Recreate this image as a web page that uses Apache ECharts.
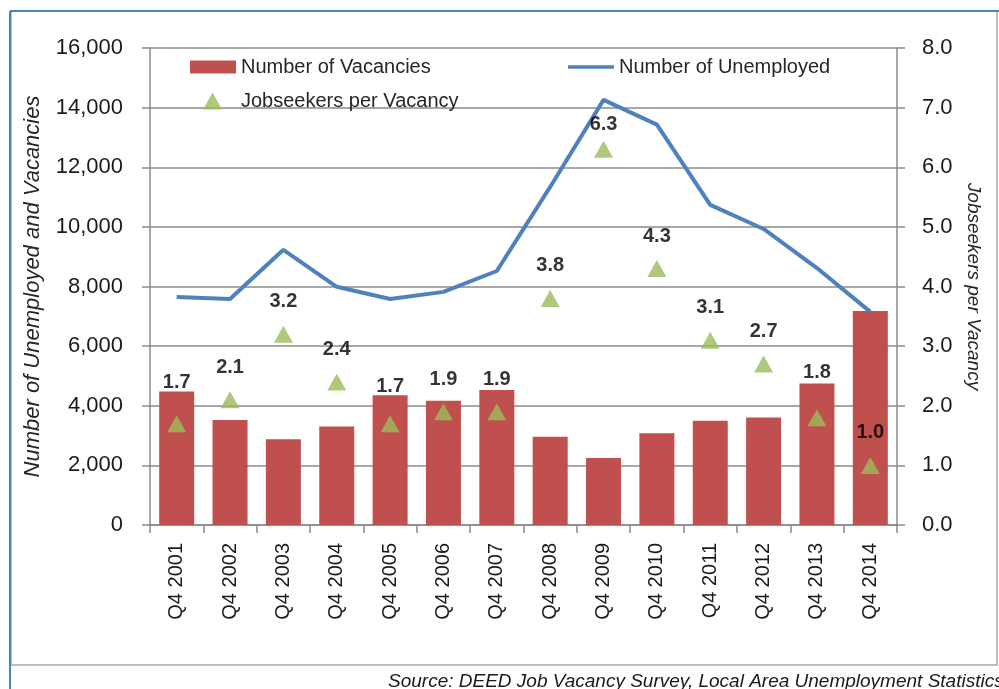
<!DOCTYPE html>
<html>
<head>
<meta charset="utf-8">
<script src="https://cdn.jsdelivr.net/npm/echarts@6/dist/echarts.min.js"></script>
<style>html,body{margin:0;padding:0;background:#fff}#c{width:999px;height:689px}</style>
</head>
<body>
<div id="c"></div>
<script>
const categories = ['Q4 2001','Q4 2002','Q4 2003','Q4 2004','Q4 2005','Q4 2006','Q4 2007','Q4 2008','Q4 2009','Q4 2010','Q4 2011','Q4 2012','Q4 2013','Q4 2014'];
const vacancies = [4480, 3520, 2880, 3300, 4350, 4170, 4530, 2960, 2250, 3080, 3500, 3610, 4750, 7180];
const unemployed = [7650, 7580, 9230, 7990, 7580, 7820, 8520, 11340, 14260, 13430, 10740, 9930, 8620, 7150];
const jobseekers = [1.7, 2.1, 3.2, 2.4, 1.7, 1.9, 1.9, 3.8, 6.3, 4.3, 3.1, 2.7, 1.8, 1.0];
const leftTicks = [0, 2000, 4000, 6000, 8000, 10000, 12000, 14000, 16000];
const rightTicks = [0.0, 1.0, 2.0, 3.0, 4.0, 5.0, 6.0, 7.0, 8.0];

const labelDistance = {0: 23, 4: 19, 8: 6, 12: 27};
const baseFont = 'Liberation Sans, Arial, sans-serif';

const chart = echarts.init(document.getElementById('c'), null, {renderer: 'canvas'});
chart.setOption({
  animation: false,
  backgroundColor: '#ffffff',
  grid: {left: 150, right: 102, top: 48, bottom: 164, containLabel: false},
  legend: [
    {data: [{name: 'Number of Vacancies', icon: 'rect'}], left: 185, top: 52, itemWidth: 46, itemHeight: 13, itemGap: 5,
     textStyle: {fontSize: 20, color: '#262626', fontFamily: baseFont}},
    {data: [{name: 'Number of Unemployed', icon: 'rect'}], left: 563, top: 52, itemWidth: 46, itemHeight: 3.5,
     textStyle: {fontSize: 20, color: '#262626', fontFamily: baseFont}},
    {data: [{name: 'Jobseekers per Vacancy', icon: 'triangle'}], left: 198, top: 86, itemWidth: 19, itemHeight: 17,
     textStyle: {fontSize: 20, color: '#262626', fontFamily: baseFont, padding: [0, 0, 0, 14]}}
  ],
  xAxis: {
    type: 'category', data: categories, boundaryGap: true,
    axisLine: {lineStyle: {color: '#8a8a8a', width: 1.5}},
    axisTick: {show: true, length: 8, lineStyle: {color: '#8a8a8a', width: 1.5}},
    axisLabel: {rotate: 90, margin: 18, fontSize: 20, color: '#1a1a1a', fontFamily: baseFont, interval: 0}
  },
  yAxis: [
    {
      type: 'value', min: leftTicks[0], max: leftTicks[leftTicks.length - 1], interval: leftTicks[1] - leftTicks[0],
      name: 'Number of Unemployed and Vacancies', nameLocation: 'middle', nameRotate: 90, nameGap: 106,
      nameTextStyle: {fontSize: 22, fontStyle: 'italic', color: '#262626', fontFamily: baseFont},
      axisLine: {show: true, lineStyle: {color: '#8a8a8a', width: 1.5}},
      axisTick: {show: true, length: 8, lineStyle: {color: '#8a8a8a', width: 1.5}},
      axisLabel: {margin: 27, fontSize: 22, color: '#1a1a1a', fontFamily: baseFont,
        formatter: v => v.toLocaleString('en-US')},
      splitLine: {show: true, lineStyle: {color: '#8a8a8a', width: 1.5}}
    },
    {
      type: 'value', min: rightTicks[0], max: rightTicks[rightTicks.length - 1], interval: rightTicks[1] - rightTicks[0],
      name: 'Jobseekers per Vacancy', nameLocation: 'middle', nameRotate: -90, nameGap: 65,
      nameTextStyle: {fontSize: 19, fontStyle: 'italic', color: '#262626', fontFamily: baseFont},
      axisLine: {show: true, lineStyle: {color: '#8a8a8a', width: 1.5}},
      axisTick: {show: true, length: 8, lineStyle: {color: '#8a8a8a', width: 1.5}},
      axisLabel: {margin: 25, fontSize: 22, color: '#1a1a1a', fontFamily: baseFont,
        formatter: v => v.toFixed(1)},
      splitLine: {show: false}
    }
  ],
  series: [
    {
      name: 'Number of Vacancies', type: 'bar', yAxisIndex: 0, data: vacancies, barWidth: 35,
      itemStyle: {color: '#C0504D'}, z: 2
    },
    {
      name: 'Number of Unemployed', type: 'line', yAxisIndex: 0, data: unemployed,
      showSymbol: false, symbol: 'none', lineStyle: {color: '#4F81BD', width: 4}, itemStyle: {color: '#4F81BD'}, z: 3
    },
    {
      name: 'Jobseekers per Vacancy', type: 'scatter', yAxisIndex: 1, symbol: 'triangle', symbolSize: [19, 17],
      itemStyle: {color: '#9BBB59'}, z: 4,
      data: jobseekers.map((v, i) => ({
        value: v,
        label: {distance: labelDistance[i] !== undefined ? labelDistance[i] : 14}
      })),
      label: {show: true, position: 'top', distance: 14, fontSize: 20, fontWeight: 'bold', color: '#000000',
        fontFamily: baseFont, formatter: p => p.value.toFixed(1)}
    }
  ],
  graphic: [
    {type: 'rect', shape: {x: 11, y: 11, width: 986, height: 654}, style: {fill: 'none', stroke: '#bfbfbf', lineWidth: 2}, z: 0, silent: true},
    {type: 'line', shape: {x1: 10, y1: 11, x2: 999, y2: 11}, style: {stroke: '#4F81BD', lineWidth: 2}, z: 1, silent: true},
    {type: 'line', shape: {x1: 10, y1: 11, x2: 10, y2: 689}, style: {stroke: '#4F81BD', lineWidth: 2}, z: 1, silent: true},
    {type: 'text', left: 388, top: 672, style: {text: 'Source: DEED Job Vacancy Survey, Local Area Unemployment Statistics',
      font: 'italic 19px "Liberation Sans Narrow", "Liberation Sans", Arial, sans-serif', fill: '#1a1a1a'}, silent: true}
  ]
});
</script>
</body>
</html>
